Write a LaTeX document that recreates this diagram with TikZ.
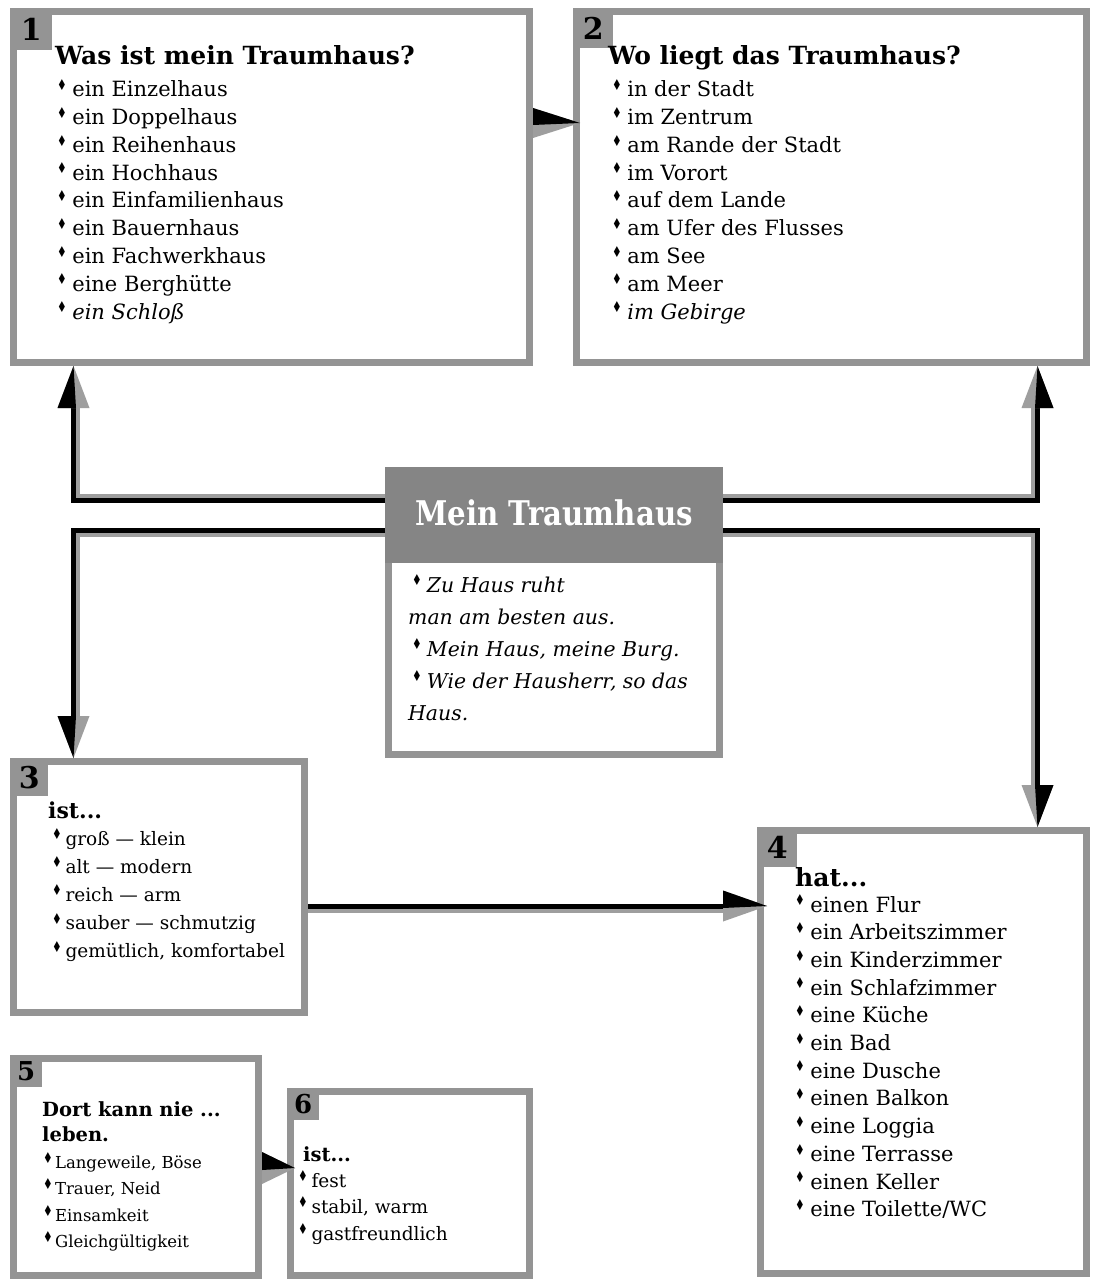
\documentclass[tikz,border=0pt]{standalone}
\usepackage{fontspec}
\usepackage{graphicx}
\setmainfont{DejaVu Serif}
\newfontfamily\symf{DejaVu Sans}
\newfontfamily\titlef[FakeStretch=0.86]{DejaVu Serif}
\usetikzlibrary{calc}
\definecolor{brd}{gray}{0.58}
\definecolor{shd}{gray}{0.62}
\definecolor{hdr}{gray}{0.52}
\newcommand\bul{\makebox[0.72em][l]{\raisebox{0.3em}{\symf\fontsize{15}{15}\selectfont\scalebox{0.72}[1]{♦}}}}
\newcommand\vtip[3]{\begin{scope}[shift={(#1)},xscale=#2,yscale=#3]\fill[shd] (0,0) -- (-16,42) -- (16,42) -- cycle;\fill[black] (0,0) -- (-16,42) -- (2.5,42) -- cycle;\end{scope}}
\newcommand\htip[3]{\begin{scope}[shift={(#1)}]\fill[shd] (0,0) -- (-#2,-#3) -- (-#2,#3) -- cycle;\fill[black] (0,0) -- (-#2,-#3) -- (-#2,2) -- cycle;\end{scope}}
\begin{document}
\begin{tikzpicture}[x=1pt,y=-1pt,
 box/.style={draw=brd, line width=7pt, fill=white, inner sep=0pt, anchor=north west},
 tab/.style={fill=brd, inner sep=0pt, anchor=north west, font=\fontsize{30}{30}\selectfont\bfseries, text=black},
 item/.style={anchor=base west, inner sep=0pt, font=\fontsize{21}{25}\selectfont},
 head/.style={anchor=base west, inner sep=0pt, font=\fontsize{25}{30}\selectfont\bfseries},
 quote/.style={anchor=base west, inner sep=0pt, font=\fontsize{20.4}{24}\selectfont\itshape},
 ttlstyle/.style={anchor=base, inner sep=0pt, font=\titlef\fontsize{34}{34}\selectfont\bfseries},
 shaft/.style={line width=5pt, black},
 shadow/.style={line width=4.5pt, shd}]
\fill[white] (0,0) rectangle (1092,1281);
\useasboundingbox (0,0) rectangle (1092,1281);

% boxes
\node[box, minimum width=516pt, minimum height=351pt] (b1) at (10,8) {};
\node[box, minimum width=510pt, minimum height=351pt] (b2) at (573,8) {};
\node[box, minimum width=291pt, minimum height=251pt] (b3) at (10,758) {};
\node[box, minimum width=326pt, minimum height=443pt] (b4) at (757,827) {};
\node[box, minimum width=245pt, minimum height=217pt] (b5) at (10,1055) {};
\node[box, minimum width=239pt, minimum height=184pt] (b6) at (287,1088) {};
\node[box, minimum width=331pt, minimum height=284pt] (c) at (385,467) {};
\coordinate (hy) at (0,563);
\fill[hdr] (c.north west) rectangle (c.east |- hy);

% tabs
\node[tab, minimum size=42pt] (t1) at (10,8) {1};
\node[tab, minimum size=40pt] (t2) at (573,8) {2};
\node[tab, minimum size=38pt] (t3) at (10,758) {3};
\node[tab, minimum size=40pt] (t4) at (757,827) {4};
\node[tab, minimum size=32pt, font=\fontsize{26}{26}\selectfont\bfseries] (t5) at (10,1055) {5};
\node[tab, minimum size=32pt, font=\fontsize{26}{26}\selectfont\bfseries] (t6) at (287,1088) {6};

% title
\node[ttlstyle, text=white] (ttl) at (554,525) {Mein Traumhaus};

% quotes
\node[quote] (q1) at (412,592) {\bul Zu Haus ruht};
\node[quote] (q2) at (408,624) {man am besten aus.};
\node[quote] (q3) at (412,656) {\bul Mein Haus, meine Burg.};
\node[quote] (q4) at (412,688) {\bul Wie der Hausherr, so das};
\node[quote] (q5) at (408,720) {Haus.};

% box 1
\node[head] (h1) at (55,65) {Was ist mein Traumhaus?};
\foreach \t [count=\i] in {ein Einzelhaus, ein Doppelhaus, ein Reihenhaus, ein Hochhaus, ein Einfamilienhaus, ein Bauernhaus, ein Fachwerkhaus, eine Berghütte, {\itshape ein Schloß}}
  \node[item] (i1-\i) at (57,{97+27.75*(\i-1)}) {\bul\t};
% box 2
\node[head] (h2) at (608,65) {Wo liegt das Traumhaus?};
\foreach \t [count=\i] in {in der Stadt, im Zentrum, am Rande der Stadt, im Vorort, auf dem Lande, am Ufer des Flusses, am See, am Meer, {\itshape im Gebirge}}
  \node[item] (i2-\i) at (612,{97+27.75*(\i-1)}) {\bul\t};
% box 3
\node[head, font=\fontsize{22}{26}\selectfont\bfseries] (h3) at (48,818) {ist...};
\foreach \t [count=\i] in {groß — klein, alt — modern, reich — arm, sauber — schmutzig, {gemütlich, komfortabel}}
  \node[item, font=\fontsize{18.5}{22}\selectfont] (i3-\i) at (52,{845+28.2*(\i-1)}) {\bul\t};
% box 4
\node[head] (h4) at (795,886) {hat...};
\foreach \t [count=\i] in {einen Flur, ein Arbeitszimmer, ein Kinderzimmer, ein Schlafzimmer, eine Küche, ein Bad, eine Dusche, einen Balkon, eine Loggia, eine Terrasse, einen Keller, eine Toilette/WC}
  \node[item] (i4-\i) at (795,{912+27.7*(\i-1)}) {\bul\t};
% box 5
\node[head, font=\fontsize{19.5}{24}\selectfont\bfseries] (h5a) at (42,1116) {Dort kann nie ...};
\node[head, font=\fontsize{19.5}{24}\selectfont\bfseries] (h5b) at (42,1141) {leben.};
\foreach \t [count=\i] in {{Langeweile, Böse}, {Trauer, Neid}, Einsamkeit, Gleichgültigkeit}
  \node[item, font=\fontsize{16.5}{20}\selectfont] (i5-\i) at (43,{1168+26.5*(\i-1)}) {\bul\t};
% box 6
\node[head, font=\fontsize{19.5}{24}\selectfont\bfseries] (h6) at (303,1161) {ist...};
\foreach \t [count=\i] in {fest, {stabil, warm}, gastfreundlich}
  \node[item, font=\fontsize{18.5}{22}\selectfont] (i6-\i) at (298,{1187+26.5*(\i-1)}) {\bul\t};

% connectors
\coordinate (kL1) at (73.5,500.5);
\coordinate (kL2) at (73.5,530);
\coordinate (kR1) at (1037.5,500.5);
\coordinate (kR2) at (1037.5,530);
\coordinate (a12) at (0,123);
\coordinate (a34) at (0,906);
\coordinate (a56) at (0,1168);

\draw[shadow, shorten >=30pt] ($(c.west |- kL1)+(0,-4.5)$) -- ($(kL1)+(4.5,-4.5)$) -- ($(kL1 |- b1.south)+(4.5,0)$);
\draw[shaft, shorten >=30pt] (c.west |- kL1) -- (kL1) -- (kL1 |- b1.south);
\vtip{kL1 |- b1.south}{1}{1}

\draw[shadow, shorten >=30pt] ($(c.west |- kL2)+(0,4.5)$) -- ($(kL2)+(4.5,4.5)$) -- ($(kL2 |- b3.north)+(4.5,0)$);
\draw[shaft, shorten >=30pt] (c.west |- kL2) -- (kL2) -- (kL2 |- b3.north);
\vtip{kL2 |- b3.north}{1}{-1}

\draw[shadow, shorten >=30pt] ($(c.east |- kR1)+(0,-4.5)$) -- ($(kR1)+(-4.5,-4.5)$) -- ($(kR1 |- b2.south)+(-4.5,0)$);
\draw[shaft, shorten >=30pt] (c.east |- kR1) -- (kR1) -- (kR1 |- b2.south);
\vtip{kR1 |- b2.south}{-1}{1}

\draw[shadow, shorten >=30pt] ($(c.east |- kR2)+(0,4.5)$) -- ($(kR2)+(-4.5,4.5)$) -- ($(kR2 |- b4.north)+(-4.5,0)$);
\draw[shaft, shorten >=30pt] (c.east |- kR2) -- (kR2) -- (kR2 |- b4.north);
\vtip{kR2 |- b4.north}{-1}{-1}

\draw[shaft, shorten >=40pt] (b1.east |- a12) -- (b2.west |- a12);
\htip{$(b2.west |- a12)+(7,0)$}{47}{15}

\draw[shadow, shorten >=34pt] ($(b3.east |- a34)+(0,4.5)$) -- ($(b4.west |- a34)+(0,4.5)$);
\draw[shaft, shorten >=34pt] (b3.east |- a34) -- (b4.west |- a34);
\htip{$(b4.west |- a34)+(10,0)$}{44}{15.5}

\draw[shaft, shorten >=24pt] (b5.east |- a56) -- (b6.west |- a56);
\htip{$(b6.west |- a56)+(8,0)$}{33}{16}
\end{tikzpicture}
\end{document}
